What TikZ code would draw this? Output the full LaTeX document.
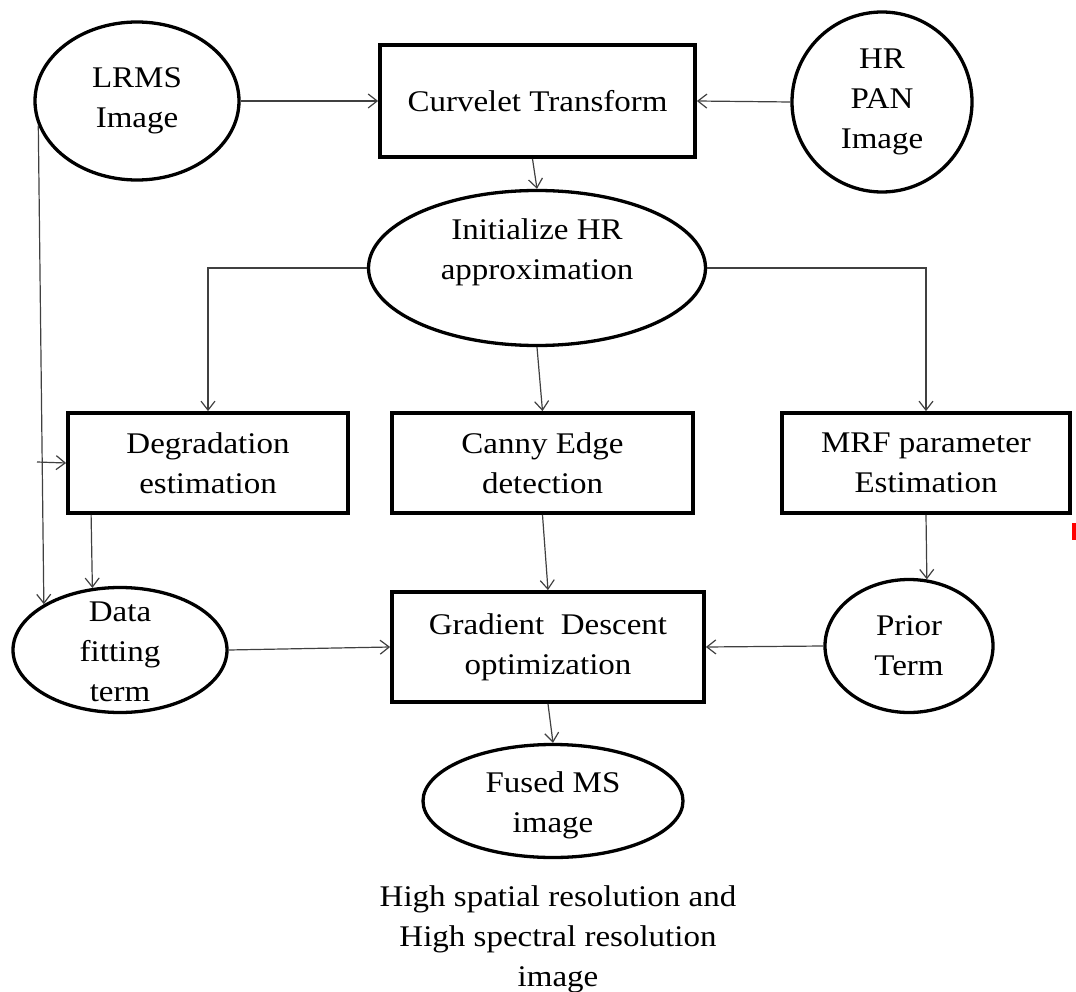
\documentclass[tikz,border=0pt]{standalone}
\usepackage{fontspec}
\setmainfont{Liberation Serif}[FakeStretch=1.1]
\usetikzlibrary{shapes.geometric,arrows.meta}
\tikzset{
	box/.style={draw, line width=3.8pt, rectangle, align=center, inner sep=0pt},
	oval/.style={draw, line width=3.3pt, ellipse, inner sep=0pt},
	txt/.style={align=center, inner sep=0pt},
	conn/.style={draw=black!75, line width=1.2pt, -{Straight Barb[length=9pt,width=14pt]}},
}

\begin{document}
\begin{tikzpicture}[x=1pt, y=-1pt, font=\fontsize{30}{40}\selectfont]
		\useasboundingbox (0,0) rectangle (1076,992);
		%%%%% INPUTS %%%%%
		\node[oval, minimum width=204, minimum height=158, label={[txt]center:{LRMS\\Image}}] (lrms) at (137,101) {};
		\node[box, minimum width=315, minimum height=112] (curv) at (537.5,101) {Curvelet Transform};
		\node[oval, circle, minimum size=180, label={[txt]center:{HR\\PAN\\Image}}] (pan) at (882,102) {};
		
		\draw[conn] (lrms.east) -- (curv.west);
		\draw[conn] (pan.west) -- (curv.east);
		
		%%%%% MIDDLE %%%%%
		\node[oval, minimum width=337, minimum height=155, label={[txt, yshift=16pt]center:{Initialize HR\\approximation}}] (init) at (537,268) {};
		\draw[conn] ([xshift=-5pt]curv.south) -- (init.north);
		
		\node[box, minimum width=280, minimum height=100] (degr) at (208,463) {Degradation\\estimation};
		\node[box, minimum width=301, minimum height=100] (canny) at (542.5,463) {Canny Edge\\detection};
		\node[box, minimum width=288, minimum height=100] (mrf) at (926,463) {MRF parameter\\Estimation};
		
		\draw[conn] (init.west) -| (degr.north);
		\draw[conn] (init.south) -- (canny.north);
		\draw[conn] (init.east) -| (mrf.north);
		
		%%%%% LOWER %%%%%
		\node[oval, minimum width=214, minimum height=125, label={[txt, yshift=-2pt]center:{Data\\fitting\\term}}] (data) at (120,650) {};
		\node[box, minimum width=312, minimum height=110] (grad) at (548,647) {Gradient~ Descent\\optimization};
		\node[oval, minimum width=168, minimum height=133, label={[txt]center:{Prior\\Term}}] (prior) at (909,646) {};
		
		\coordinate (tap) at (37,462);
		\draw[conn] (lrms.194) -- (data.149);
		\draw[conn] (tap) -- (degr.west);
		\draw[conn] ([xshift=25pt]degr.south west) -- (data.114);
		\draw[conn] (canny.south) -- (grad.north);
		\draw[conn] (mrf.south) -- (prior.75);
		\draw[conn] (data.east) -- (grad.west);
		\draw[conn] (prior.west) -- (grad.east);
		
		%%%%% OUTPUT %%%%%
		\node[oval, minimum width=260, minimum height=113, label={[txt, yshift=-4pt]center:{Fused MS\\image}}] (fused) at (553,801) {};
		\draw[conn] (grad.south) -- (fused.north);
		
		\node[txt] (note) at (558,939) {High spatial resolution and\\High spectral resolution\\image};
		
		\fill[red] (1072,523) rectangle (1076,540);
	\end{tikzpicture}
\end{document}
